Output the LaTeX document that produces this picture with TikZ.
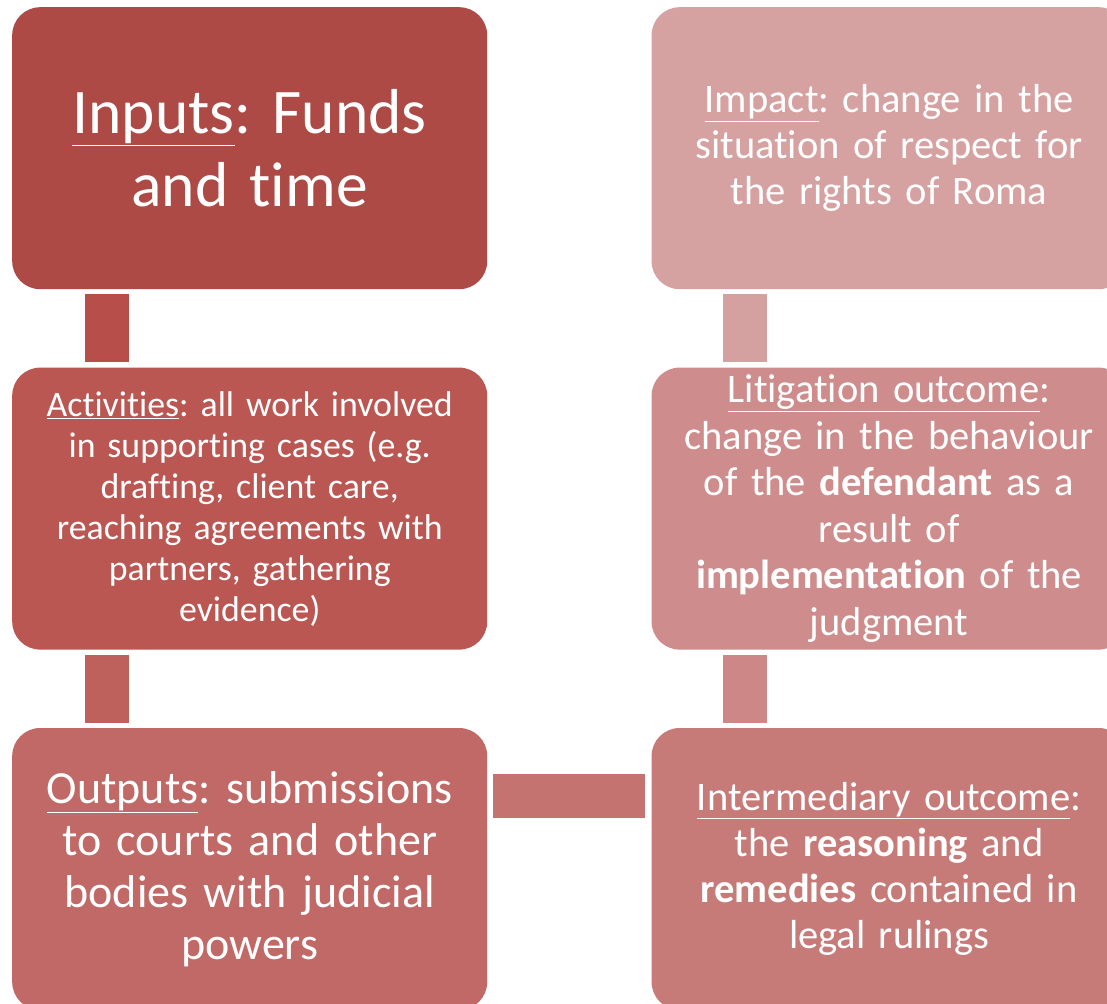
\documentclass[tikz,border=0pt]{standalone}
\usepackage{fontspec}
\setmainfont{Carlito}[Ligatures={CommonOff,ContextualOff}, RawFeature={-calt}, WordSpace=0.88]
\usepackage{tikz}
\usetikzlibrary{positioning}
\definecolor{cInputs}{HTML}{AE4A46}
\definecolor{cLinkA}{HTML}{B84E4A}
\definecolor{cActivities}{HTML}{BB5753}
\definecolor{cLinkB}{HTML}{BE605C}
\definecolor{cOutputs}{HTML}{C06966}
\definecolor{cLinkC}{HTML}{C47371}
\definecolor{cInterm}{HTML}{C77B79}
\definecolor{cLinkD}{HTML}{CC8786}
\definecolor{cLitig}{HTML}{CE8D8C}
\definecolor{cLinkE}{HTML}{D5A0A0}
\definecolor{cImpact}{HTML}{D6A1A1}
\tikzstyle{stage}=[rounded corners=28pt, text=white, inner sep=0pt,
    text width=465pt, align=center,
    minimum width=475pt, minimum height=282pt]
\tikzstyle{link}=[line width=44pt, shorten <=5pt, shorten >=5pt]
\frenchspacing

\begin{document}
\begin{tikzpicture}[node distance=78pt and 164pt]
    \path[use as bounding box, clip] (0,0) rectangle (1107pt,-1003pt);
    \node[stage, fill=cInputs, anchor=north west, font=\fontsize{63.5}{73}\selectfont] (inputs) at (12pt,-7pt)
        {\underline{Inputs}: Funds\\and time};
    \node[stage, fill=cActivities, below=of inputs, font=\fontsize{35.8}{41}\selectfont] (activities)
        {\underline{Activities}: all work involved\\in supporting cases (e.g.\\drafting, client care,\\reaching agreements with\\partners, gathering\\evidence)};
    \node[stage, fill=cOutputs, below=of activities, font=\fontsize{46}{52}\selectfont] (outputs)
        {\underline{Outputs}: submissions\\to courts and other\\bodies with judicial\\powers};
    \node[stage, fill=cImpact, right=of inputs, font=\fontsize{40.5}{46}\selectfont] (impact)
        {\underline{Impact}: change in the\\situation of respect for\\the rights of Roma};
    \node[stage, fill=cLitig, below=of impact, font=\fontsize{40.5}{46.5}\selectfont] (litigation)
        {\underline{Litigation outcome}:\\change in the behaviour\\of the \textbf{defendant} as a\\result of\\\textbf{implementation} of the\\judgment};
    \node[stage, fill=cInterm, below=of litigation, font=\fontsize{40.5}{46}\selectfont] (interm)
        {\underline{Intermediary outcome}:\\the \textbf{reasoning} and\\\textbf{remedies} contained in\\legal rulings};
    % connectors
    \draw[link, cLinkA] ([xshift=95pt]inputs.south west) -- ([xshift=95pt]activities.north west);
    \draw[link, cLinkB] ([xshift=95pt]activities.south west) -- ([xshift=95pt]outputs.north west);
    \draw[link, cLinkC, shorten <=6pt, shorten >=6pt] ([yshift=-68pt]outputs.north east) -- ([yshift=-68pt]interm.north west);
    \draw[link, cLinkD] ([xshift=94pt]interm.north west) -- ([xshift=94pt]litigation.south west);
    \draw[link, cLinkE] ([xshift=94pt]litigation.north west) -- ([xshift=94pt]impact.south west);
\end{tikzpicture}
\end{document}
